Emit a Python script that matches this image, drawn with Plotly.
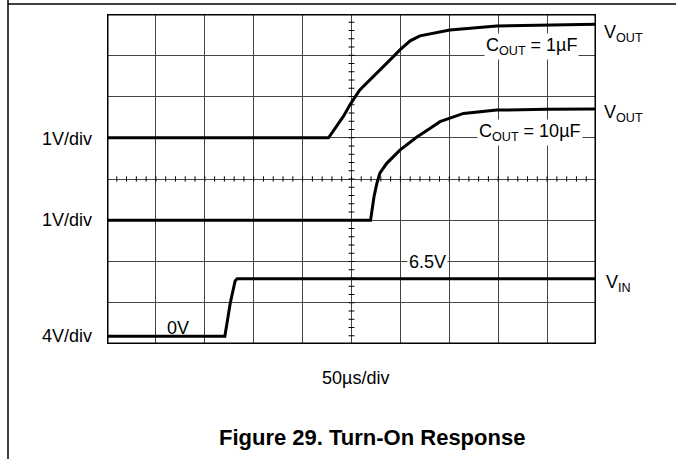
import plotly.graph_objects as go

# ---- data (in scope divisions: x 0..10, y 0..8) ----
vout1_x = [0, 4.53, 4.83, 4.99, 5.17, 5.52, 5.85, 5.99, 6.20, 6.40, 6.61, 7.01, 7.97, 8.99, 10.0]
vout1_y = [5.0, 5.0, 5.51, 5.84, 6.16, 6.56, 6.96, 7.13, 7.35, 7.47, 7.52, 7.61, 7.71, 7.73, 7.75]

vout10_x = [0, 5.39, 5.46, 5.52, 5.58, 5.72, 5.99, 6.33, 6.61, 6.81, 7.29, 7.97, 8.99, 10.0]
vout10_y = [3.0, 3.0, 3.57, 3.90, 4.14, 4.38, 4.70, 5.01, 5.23, 5.39, 5.59, 5.67, 5.69, 5.70]

vin_x = [0, 2.41, 2.52, 2.62, 2.66, 10.0]
vin_y = [0.19, 0.19, 0.99, 1.53, 1.58, 1.58]

# ---- layout geometry (page pixels) ----
W, H = 676, 459
L, R, T, B = 107, 596, 14, 344
FONT = "Liberation Sans, Arial, Helvetica, sans-serif"


def px2x(px):
    return (px - L) / (R - L)


def px2y(py):
    return (B - py) / (B - T)


fig = go.Figure()
for xs, ys in [(vout1_x, vout1_y), (vout10_x, vout10_y), (vin_x, vin_y)]:
    fig.add_trace(go.Scatter(x=xs, y=ys, mode="lines",
                             line=dict(color="black", width=3),
                             hoverinfo="skip", showlegend=False))

shapes = []
# minor ticks on the centre cross
for k in range(1, 50):
    xv = k * 0.2
    shapes.append(dict(type="line", xref="x", yref="y", x0=xv, x1=xv,
                       y0=4 - 0.065, y1=4 + 0.065,
                       line=dict(color="black", width=1)))
for k in range(1, 40):
    yv = k * 0.2
    shapes.append(dict(type="line", xref="x", yref="y", x0=5 - 0.06, x1=5 + 0.06,
                       y0=yv, y1=yv, line=dict(color="black", width=1)))
# plot frame
shapes.append(dict(type="rect", xref="x", yref="y", x0=0, x1=10, y0=0, y1=8,
                   line=dict(color="black", width=3), layer="above"))
# page frame lines
shapes.append(dict(type="line", xref="paper", yref="paper",
                   x0=px2x(8), x1=px2x(676), y0=px2y(4), y1=px2y(4),
                   line=dict(color="black", width=1.5)))
shapes.append(dict(type="line", xref="paper", yref="paper",
                   x0=px2x(8), x1=px2x(8), y0=px2y(0), y1=px2y(459),
                   line=dict(color="black", width=1.5)))

fs = 18
ann = []


def add(text, x, y, xanchor="center", yanchor="middle", bg=None, size=fs):
    d = dict(text=text, xref="paper", yref="paper", x=px2x(x), y=px2y(y),
             xanchor=xanchor, yanchor=yanchor, showarrow=False,
             font=dict(family=FONT, size=size, color="black"))
    if bg:
        d["bgcolor"] = bg
        d["borderpad"] = 1
    ann.append(d)


add("1V/div", 94, 139, xanchor="right")
add("1V/div", 94, 220, xanchor="right")
add("4V/div", 94, 336, xanchor="right")
add("V<sub>OUT</sub>", 602, 34, xanchor="left")
add("V<sub>OUT</sub>", 602, 114, xanchor="left")
add("V<sub>IN</sub>", 604, 283, xanchor="left")
add("C<sub>OUT</sub> = 1µF", 531, 47, bg="white")
add("C<sub>OUT</sub> = 10µF", 530, 132, bg="white")
add("6.5V", 427, 262, bg="white")
add("0V", 178, 328)
add("50µs/div", 355, 378)
add("<b>Figure 29. Turn-On Response</b>", 372, 437, size=22)

fig.update_layout(
    width=W, height=H,
    margin=dict(l=L, r=W - R, t=T, b=H - B, pad=0),
    paper_bgcolor="white", plot_bgcolor="white",
    shapes=shapes, annotations=ann,
    font=dict(family=FONT, size=fs, color="black"),
    xaxis=dict(range=[0, 10], dtick=1, showgrid=True, gridcolor="#444444", gridwidth=1,
               zeroline=False, showticklabels=False, ticks="", showline=False, fixedrange=True),
    yaxis=dict(range=[0, 8], dtick=1, showgrid=True, gridcolor="#444444", gridwidth=1,
               zeroline=False, showticklabels=False, ticks="", showline=False, fixedrange=True),
)

fig.write_html("out.html", config={"displayModeBar": False},
               post_script="document.body.style.margin='0';document.body.style.overflow='hidden';")
